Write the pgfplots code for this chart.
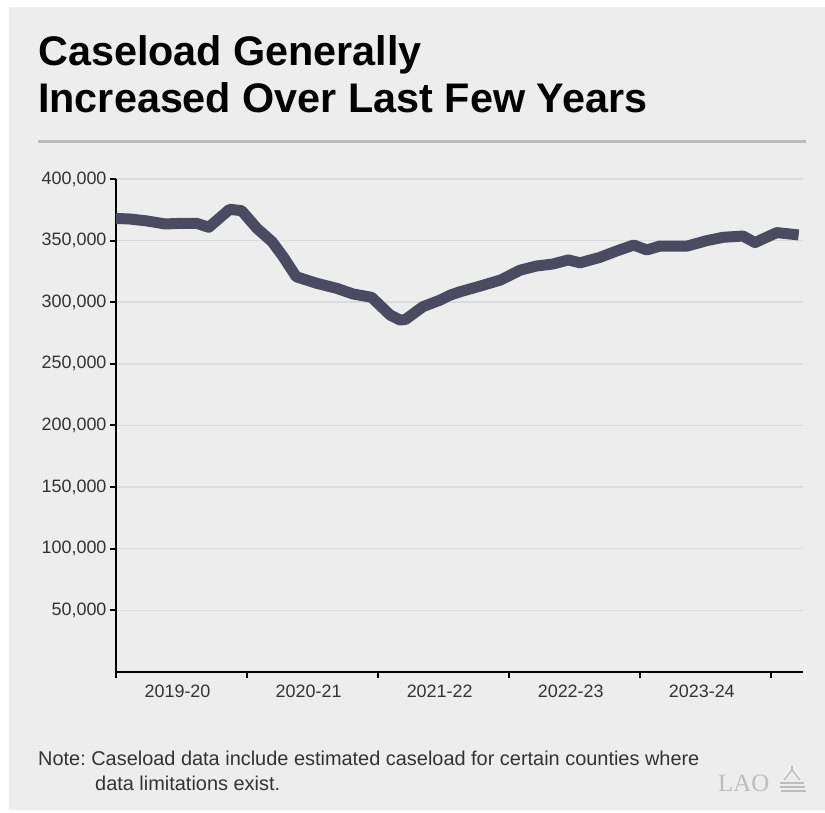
\documentclass[border=0pt]{standalone}
\usepackage{pgfplots}
\pgfplotsset{compat=1.18}
\usepackage{fontspec}
\setmainfont{Liberation Sans}
\newfontfamily\seriffont{Liberation Serif}
\frenchspacing

\definecolor{panel}{HTML}{EDEDED}
\definecolor{caseline}{RGB}{74,74,96}
\definecolor{gridgray}{HTML}{DBDBDB}
\definecolor{rulegray}{HTML}{BDBDBD}
\definecolor{labelgray}{HTML}{333333}
\definecolor{logogray}{HTML}{BDBDBD}

% Monthly caseload, months counted from July 2019
\pgfplotstableread{
month caseload
0.0  368000
1.3  367500
2.8  366000
4.5  363500
5.9  364000
7.4  364000
8.5  360800
10.4 375400
11.5 374300
12.9 360000
14.3 349000
15.3 337000
16.5 320700
18.4 315300
20.2 311300
21.7 306700
23.4 304000
25.1 289600
26.0 285600
26.5 286000
28.1 296400
29.7 301800
30.6 305800
31.5 308500
33.3 313000
35.2 318000
37.0 326000
38.5 329400
40.0 331000
41.4 334300
42.5 332000
44.3 336400
45.9 341800
47.4 346400
48.6 342400
49.8 345600
52.3 345600
54.1 350000
55.6 352700
57.4 353700
58.5 348400
60.5 356500
62.5 354600
}\caseload

\begin{document}
\begin{tikzpicture}[x=1bp,y=1bp]
  % page and panel
  \fill[white] (-116,-141) rectangle (709,672);
  \fill[panel] (-107,-138) rectangle (709,665);

  % title and rule
  \node[anchor=base west, inner sep=0pt, font=\fontsize{41.5}{48}\selectfont\bfseries]
    at (-78,606) {Caseload Generally};
  \node[anchor=base west, inner sep=0pt, font=\fontsize{41.5}{48}\selectfont\bfseries]
    at (-78,559) {Increased Over Last Few Years};
  \draw[rulegray, line width=3bp] (-78,530) -- (690,530);

  \begin{axis}[
    scale only axis,
    width=687bp, height=493bp,
    xmin=0, xmax=62.9,
    ymin=0, ymax=400000,
    axis x line=bottom, axis y line=left,
    x axis line style={-, line width=2.6bp, black},
    y axis line style={-, line width=2bp, black},
    xtick={0,12,24,36,48,60},
    x tick label as interval,
    xticklabels={2019-20,2020-21,2021-22,2022-23,2023-24},
    xticklabel style={xshift=-4bp, yshift=-3bp},
    ytick={50000,100000,...,400000},
    scaled y ticks=false,
    yticklabel style={/pgf/number format/.cd, fixed, 1000 sep={,}},
    /pgf/number format/assume math mode=true,
    tick align=outside,
    major tick length=6bp,
    every tick/.style={black, line width=2bp},
    tick label style={font=\fontsize{18}{21}\selectfont, text=labelgray},
    ymajorgrids,
    major grid style={gridgray, line width=1.5bp},
    clip=false,
  ]
    \addplot[caseline, line width=11bp, line join=round, line cap=butt]
      table[x=month, y=caseload] {\caseload};
  \end{axis}

  % note
  \node[anchor=base west, inner sep=0pt, font=\fontsize{20}{24}\selectfont, text=labelgray]
    at (-78,-93) {Note: Caseload data include estimated caseload for certain counties where};
  \node[anchor=base west, inner sep=0pt, font=\fontsize{20}{24}\selectfont, text=labelgray]
    at (-21,-118) {data limitations exist.};

  % logo
  \node[anchor=base west, inner sep=0pt, font=\seriffont\fontsize{25}{28}\selectfont, text=logogray]
    at (602,-119) {LAO};
  \begin{scope}[logogray, line width=1.3bp]
    \draw (668,-108) -- (676,-98) -- (684,-108);
    \draw (676,-98) -- (676,-94);
    \draw (664,-111) -- (688,-111);
    \draw (664,-115) -- (689,-115);
    \draw (665,-119) -- (690,-119);
  \end{scope}

  \pgfresetboundingbox
  \useasboundingbox (-116,-141) rectangle (709,672);
\end{tikzpicture}
\end{document}
